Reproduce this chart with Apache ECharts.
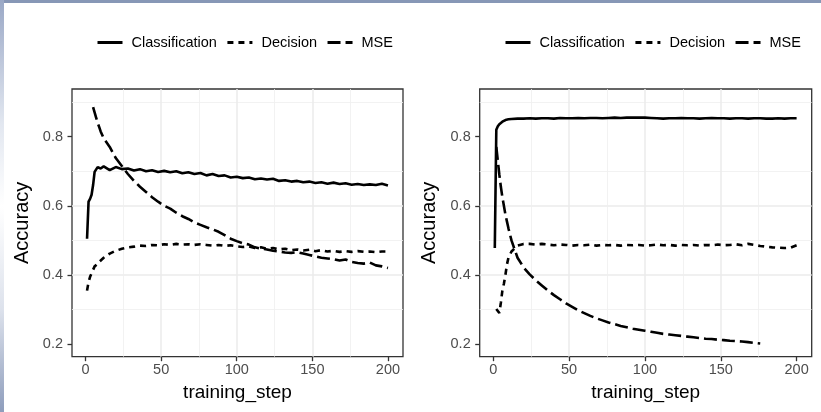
<!DOCTYPE html>
<html><head><meta charset="utf-8">
<script src="https://cdn.jsdelivr.net/npm/echarts@6/dist/echarts.min.js"></script>
<style>html,body{margin:0;padding:0;background:#fff;}#c{width:821px;height:412px;}</style>
</head><body><div id="c"></div>
<script>
const FONT = '"Liberation Sans", Arial, Helvetica, sans-serif';
const seriesNames = ['Classification', 'Decision', 'MSE'];
const xTickLabels = [0, 50, 100, 150, 200];
const yTickLabels = [0.2, 0.4, 0.6, 0.8];
const steps = [1,2,3,4,5,6,7,8,9,10,12,16,20,24,28,32,36,40,44,48,52,56,60,64,68,72,76,80,84,88,92,96,100,104,108,112,116,120,124,128,132,136,140,144,148,152,156,160,164,168,172,176,180,184,188,192,196,200];

const leftClassification = [0.505,0.612,0.62,0.632,0.66,0.698,0.70,0.712,0.715,0.708,
 0.714,0.703,0.712,0.706,0.708,0.702,0.706,0.700,0.703,0.698,
 0.701,0.697,0.700,0.694,0.697,0.692,0.695,0.688,0.692,0.686,
 0.688,0.682,0.684,0.680,0.682,0.677,0.679,0.676,0.678,0.672,
 0.674,0.670,0.672,0.668,0.670,0.666,0.668,0.664,0.667,0.663,
 0.665,0.661,0.663,0.660,0.662,0.660,0.664,0.659];
const leftDecision = [0.355,0.38,0.395,0.405,0.415,0.425,0.43,0.432,0.438,0.442,
 0.45,0.462,0.47,0.476,0.48,0.482,0.485,0.484,0.487,0.486,
 0.489,0.487,0.49,0.488,0.489,0.487,0.489,0.487,0.485,0.487,
 0.484,0.486,0.483,0.481,0.483,0.478,0.480,0.476,0.478,0.474,
 0.476,0.472,0.474,0.471,0.473,0.469,0.472,0.468,0.470,0.467,
 0.469,0.467,0.469,0.467,0.468,0.466,0.468,0.468];
const leftMSE = [null,null,null,null,0.885,0.87,0.855,0.84,0.828,0.815,
 0.795,0.77,0.738,0.715,0.692,0.672,0.655,0.64,0.625,0.612,
 0.600,0.592,0.58,0.57,0.562,0.552,0.545,0.538,0.532,0.525,
 0.515,0.505,0.498,0.492,0.488,0.48,0.476,0.474,0.47,0.468,
 0.465,0.464,0.466,0.462,0.458,0.454,0.450,0.448,0.446,0.442,
 0.445,0.438,0.435,0.433,0.436,0.428,0.425,0.42];
const rightClassification = [0.478,0.82,0.83,0.836,0.84,0.843,0.846,0.848,0.849,0.85,
 0.851,0.852,0.852,0.853,0.852,0.853,0.853,0.852,0.854,0.853,
 0.853,0.854,0.853,0.854,0.854,0.853,0.854,0.855,0.854,0.855,
 0.855,0.855,0.855,0.854,0.853,0.852,0.853,0.853,0.854,0.853,
 0.853,0.852,0.853,0.854,0.853,0.853,0.852,0.853,0.853,0.852,
 0.853,0.853,0.852,0.852,0.853,0.852,0.853,0.853];
const rightDecision = [null,0.302,0.296,0.29,0.32,0.355,0.375,0.40,0.43,0.45,
 0.468,0.485,0.49,0.49,0.488,0.49,0.488,0.486,0.488,0.487,
 0.485,0.487,0.486,0.488,0.485,0.487,0.486,0.487,0.485,0.487,
 0.486,0.487,0.485,0.486,0.488,0.486,0.487,0.485,0.487,0.486,
 0.487,0.485,0.487,0.486,0.488,0.486,0.487,0.489,0.486,0.49,
 0.487,0.484,0.482,0.48,0.479,0.478,0.479,0.486];
const rightMSE = [null,0.77,0.73,0.69,0.655,0.625,0.60,0.575,0.555,0.535,
 0.50,0.45,0.422,0.402,0.385,0.37,0.355,0.342,0.33,0.318,
 0.308,0.298,0.29,0.282,0.275,0.269,0.263,0.258,0.253,0.249,
 0.245,0.242,0.239,0.236,0.233,0.23,0.228,0.226,0.224,0.222,
 0.22,0.218,0.216,0.215,0.213,0.212,0.21,0.209,0.208,0.206,
 0.204,0.202,null,null,null,null,null,null];

const dashes = {Classification: 'solid', Decision: [6, 5], MSE: [13, 5]};

function pairs(vals) {
  const out = [];
  for (let i = 0; i < steps.length; i++) if (vals[i] !== null) out.push([steps[i], vals[i]]);
  return out;
}
function mkSeries(name, vals, idx) {
  return {
    name, type: 'line', xAxisIndex: idx, yAxisIndex: idx, data: pairs(vals),
    symbol: 'none', showSymbol: false, silent: true,
    lineStyle: {color: '#000', width: 2.6, type: dashes[name]},
    itemStyle: {color: '#000'}
  };
}
function mkX(idx) {
  return {
    type: 'value', gridIndex: idx, min: -8.95, max: 209.95, splitNumber: 5,
    name: 'training_step', nameLocation: 'middle', nameGap: 27,
    nameTextStyle: {color: '#000', fontSize: 19, fontFamily: FONT},
    axisLine: {show: false, onZero: false},
    axisTick: {show: true, inside: false, length: 4.5, lineStyle: {color: '#333', width: 1.3}, customValues: xTickLabels},
    axisLabel: {color: '#4D4D4D', fontSize: 14.5, fontFamily: FONT, margin: 6, customValues: xTickLabels},
    splitLine: {show: true, showMinLine: false, showMaxLine: false, lineStyle: {color: '#EBEBEB', width: 1.5}},
    minorTick: {show: false, splitNumber: 2},
    minorSplitLine: {show: true, lineStyle: {color: '#EFEFEF', width: 0.8}}
  };
}
function mkY(idx) {
  return {
    type: 'value', gridIndex: idx, min: 0.164, max: 0.9376, splitNumber: 5,
    name: 'Accuracy', nameLocation: 'middle', nameGap: 40, nameRotate: 90,
    nameTextStyle: {color: '#000', fontSize: 20, fontFamily: FONT},
    axisLine: {show: false, onZero: false},
    axisTick: {show: true, inside: false, length: 4.5, lineStyle: {color: '#333', width: 1.3}, customValues: yTickLabels},
    axisLabel: {color: '#4D4D4D', fontSize: 14.5, fontFamily: FONT, margin: 9, customValues: yTickLabels,
      formatter: v => Number(v).toFixed(1)},
    splitLine: {show: true, showMinLine: false, showMaxLine: false, lineStyle: {color: '#EBEBEB', width: 1.5}},
    minorTick: {show: false, splitNumber: 2},
    minorSplitLine: {show: true, lineStyle: {color: '#EFEFEF', width: 0.8}}
  };
}
function mkLegend(left) {
  return {
    left, top: 35, padding: 0, itemWidth: 25, itemHeight: 14, itemGap: 9, data: seriesNames,
    selectedMode: false,
    itemStyle: {opacity: 0, borderWidth: 0},
    lineStyle: {width: 3, opacity: 1},
    textStyle: {color: '#000', fontSize: 14.5, fontFamily: FONT, padding: [0, 0, 0, 4]}
  };
}

const chart = echarts.init(document.getElementById('c'), null, {renderer: 'canvas'});
chart.setOption({
  animation: false,
  backgroundColor: '#fff',
  graphic: [
    {type: 'rect', left: 0, top: 0, shape: {width: 821, height: 3}, style: {fill: '#8797B6'}, silent: true, z: 100},
    {type: 'rect', left: 0, top: 0, shape: {width: 4, height: 412}, silent: true, z: 100,
      style: {fill: new echarts.graphic.LinearGradient(0, 0, 0, 1, [
        {offset: 0, color: '#9AA8C6'}, {offset: 0.3, color: '#E2E7F0'}, {offset: 0.5, color: '#FFFFFF'},
        {offset: 0.75, color: '#DDE2EC'}, {offset: 1, color: '#8E9DBC'}])}}
  ],
  legend: [mkLegend(96), mkLegend(504)],
  grid: [
    {left: 72, top: 89, width: 331, height: 267.7, show: true, borderColor: '#333', borderWidth: 1.3, backgroundColor: 'transparent', containLabel: false},
    {left: 479.7, top: 89, width: 332, height: 267.7, show: true, borderColor: '#333', borderWidth: 1.3, backgroundColor: 'transparent', containLabel: false}
  ],
  xAxis: [mkX(0), mkX(1)],
  yAxis: [mkY(0), mkY(1)],
  series: [
    mkSeries('Classification', leftClassification, 0),
    mkSeries('Decision', leftDecision, 0),
    mkSeries('MSE', leftMSE, 0),
    mkSeries('Classification', rightClassification, 1),
    mkSeries('Decision', rightDecision, 1),
    mkSeries('MSE', rightMSE, 1)
  ]
});
</script>
</body></html>
